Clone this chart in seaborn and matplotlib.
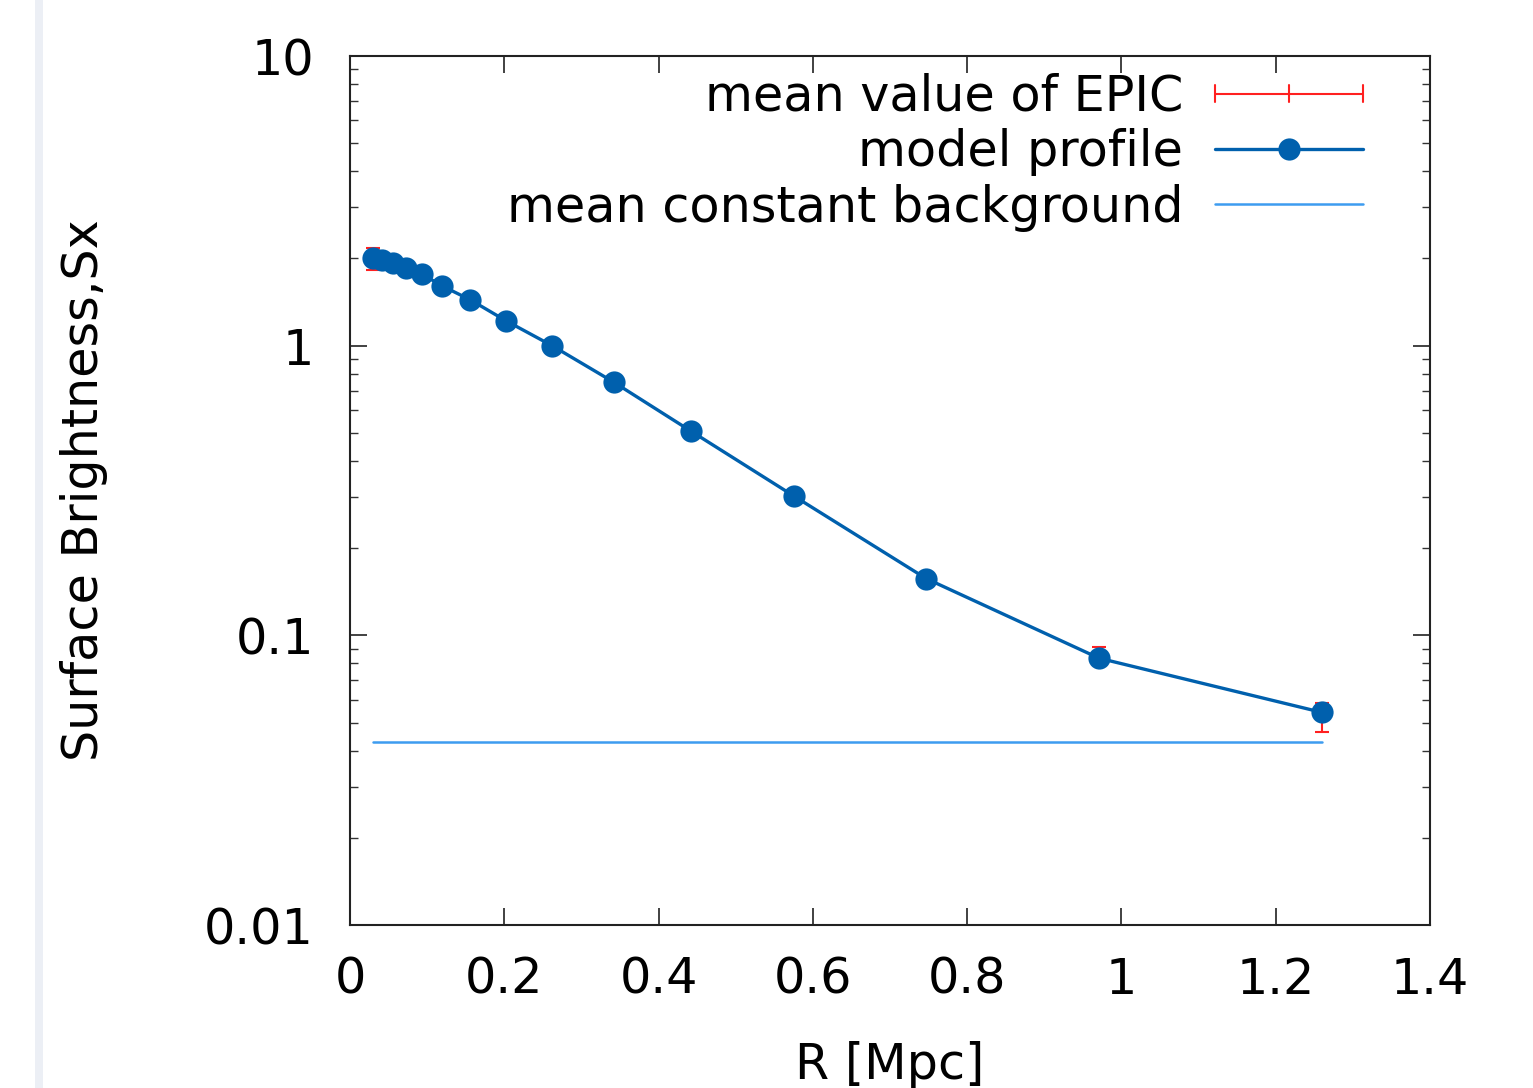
import numpy as np
import pandas as pd
import seaborn as sns
import matplotlib
matplotlib.use("Agg")
import matplotlib.pyplot as plt
from matplotlib.legend_handler import HandlerBase
from matplotlib.lines import Line2D
from matplotlib.patches import Rectangle

# Radial bins [Mpc] and surface brightness
radius = [0.030, 0.041, 0.056, 0.073, 0.093, 0.119, 0.156, 0.202, 0.262,
          0.342, 0.442, 0.576, 0.747, 0.971, 1.260]
sx_epic = [2.00, 1.98, 1.94, 1.84, 1.77, 1.61, 1.44, 1.22, 1.00,
           0.75, 0.51, 0.302, 0.157, 0.0860, 0.0525]
sx_err = [0.18, 0.10, 0.08, 0.09, 0.06, 0.05, 0.04, 0.03, 0.02,
          0.015, 0.01, 0.006, 0.004, 0.0055, 0.006]
sx_model = [2.00, 1.98, 1.93, 1.86, 1.77, 1.61, 1.44, 1.22, 1.00,
            0.748, 0.507, 0.302, 0.157, 0.0834, 0.0542]
background = 0.0427

xticks = [0, 0.2, 0.4, 0.6, 0.8, 1.0, 1.2, 1.4]
xtick_labels = ["0", "0.2", "0.4", "0.6", "0.8", "1", "1.2", "1.4"]
yticks = [0.01, 0.1, 1, 10]
ytick_labels = ["0.01", "0.1", "1", "10"]

RED = "#ff2020"
BLUE = "#0060ad"
LIGHT = "#3d9cf0"
FS = 35.5

sns.set_theme(style="ticks")
plt.rcParams["font.family"] = ["DejaVu Sans"]
plt.rcParams["text.color"] = "black"
plt.rcParams["axes.labelcolor"] = "black"
plt.rcParams["xtick.labelcolor"] = "black"
plt.rcParams["ytick.labelcolor"] = "black"

fig = plt.figure(figsize=(15.33, 10.88), dpi=100)
fig.patch.set_facecolor("white")
fig.patches.append(Rectangle((0.0228, 0), 0.0050, 1, transform=fig.transFigure,
                             facecolor="#eceff5", edgecolor="none"))
ax = fig.add_axes([0.2283, 0.1498, 0.7045, 0.7987])

df = pd.DataFrame({"R": radius, "model": sx_model})

ax.errorbar(radius, sx_epic, yerr=sx_err, fmt="none", ecolor=RED,
            elinewidth=1.5, capsize=5, capthick=1.5, zorder=2)
sns.lineplot(data=df, x="R", y="model", ax=ax, color=BLUE, lw=2.4,
             marker="o", markersize=16, markeredgewidth=0, zorder=3)
bg_df = pd.DataFrame({"R": [radius[0], radius[-1]], "bg": [background, background]})
sns.lineplot(data=bg_df, x="R", y="bg", ax=ax, color=LIGHT, lw=1.8, zorder=1)

ax.set_yscale("log")
ax.set_xlim(0, 1.4)
ax.set_ylim(0.01, 10)
ax.set_xticks(xticks)
ax.set_xticklabels(xtick_labels)
ax.set_yticks(yticks)
ax.set_yticklabels(ytick_labels)
ax.tick_params(axis="both", which="major", direction="in", length=12, width=1.3,
               top=True, right=True, labelsize=FS, color="#333333")
ax.tick_params(axis="x", which="major", pad=22)
ax.tick_params(axis="y", which="major", pad=26)
ax.tick_params(axis="y", which="minor", direction="in", length=6, width=1.0,
               right=True, left=True, color="#333333")
ax.tick_params(axis="x", which="minor", bottom=False, top=False)
for s in ax.spines.values():
    s.set_linewidth(1.5)
    s.set_color("#222222")

ax.set_xlabel("R [Mpc]", fontsize=FS, labelpad=27)
ax.set_ylabel("Surface Brightness,Sx", fontsize=FS, labelpad=69)


class ErrorKeyHandler(HandlerBase):
    def create_artists(self, legend, orig_handle, xdescent, ydescent,
                       width, height, fontsize, trans):
        y = height / 2 - ydescent
        h = height * 0.25
        arts = [Line2D([-xdescent, width - xdescent], [y, y], color=RED, lw=1.5)]
        for xx in (-xdescent, width / 2 - xdescent, width - xdescent):
            arts.append(Line2D([xx, xx], [y - h, y + h], color=RED, lw=1.5))
        for a in arts:
            a.set_transform(trans)
        return arts


err_key = Line2D([], [], color=RED)
model_key = Line2D([], [], color=BLUE, lw=2.4, marker="o", markersize=16,
                   markeredgewidth=0)
bg_key = Line2D([], [], color=LIGHT, lw=1.8)
leg = ax.legend([err_key, model_key, bg_key],
                ["mean value of EPIC", "model profile", "mean constant background"],
                handler_map={err_key: ErrorKeyHandler()},
                loc="upper right", bbox_to_anchor=(0.961, 1.009),
                frameon=False, markerfirst=False, fontsize=FS, handlelength=3.0,
                handletextpad=0.65, labelspacing=0.15, borderaxespad=0.1)

fig.savefig("out.png", dpi=100)
